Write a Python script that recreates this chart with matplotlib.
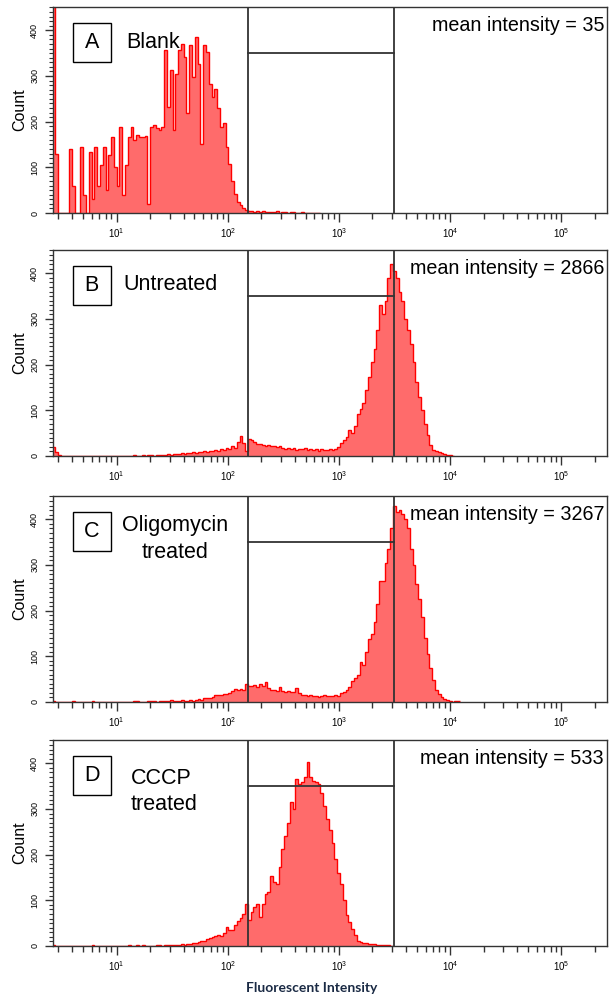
import numpy as np
import matplotlib
matplotlib.use("Agg")
import matplotlib.pyplot as plt
from matplotlib.patches import Rectangle
from matplotlib.ticker import FixedLocator, MultipleLocator, NullFormatter

plt.rcParams['font.family'] = ['Liberation Sans', 'DejaVu Sans']
plt.rcParams['mathtext.fontset'] = 'custom'
plt.rcParams['mathtext.rm'] = 'Liberation Sans'
plt.rcParams['mathtext.it'] = 'Liberation Sans'

# channel grid (log10 of fluorescence)
LOG_START = 0.424
LOG_STEP = 0.0251

counts_A = [1000, 130, 0, 0, 0, 0, 140, 60, 0, 0,
            144, 40, 0, 133, 30, 144, 60, 104, 144, 50,
            126, 166, 100, 60, 188, 40, 104, 166, 188, 159,
            170, 166, 166, 168, 20, 188, 192, 186, 182, 188,
            357, 232, 313, 181, 305, 357, 371, 342, 218, 368,
            298, 386, 327, 152, 368, 353, 283, 254, 272, 229,
            188, 196, 144, 108, 71, 42, 25, 18, 10, 7,
            5, 4, 3, 5, 2, 4, 3, 2, 3, 2,
            4, 0, 2, 3, 0, 2, 2, 0, 1, 2,
            0, 1, 0, 1, 0, 0]

counts_B = [20, 8, 2, 0, 0, 0, 0, 0, 0, 0,
            0, 1, 0, 0, 1, 0, 0, 1, 0, 0,
            1, 0, 1, 1, 0, 1, 1, 0, 1, 2,
            1, 1, 2, 1, 2, 2, 1, 2, 3, 2,
            3, 4, 3, 4, 5, 4, 6, 5, 7, 6,
            8, 7, 9, 8, 11, 9, 12, 10, 14, 12,
            16, 13, 18, 15, 22, 18, 30, 44, 28, 12,
            38, 35, 30, 27, 26, 24, 22, 23, 21, 22,
            20, 22, 18, 16, 18, 15, 17, 14, 16, 15,
            18, 14, 15, 13, 16, 12, 15, 13, 14, 16,
            13, 15, 20, 28, 34, 42, 56, 50, 65, 93,
            102, 115, 144, 173, 205, 235, 275, 330, 310, 340,
            390, 420, 405, 390, 360, 340, 300, 275, 245, 205,
            162, 130, 100, 70, 45, 25, 13, 10, 9, 6,
            4, 3, 2, 1]

counts_C = [2, 0, 0, 0, 0, 0, 0, 2, 0, 0,
            0, 0, 0, 0, 2, 0, 0, 0, 0, 0,
            0, 0, 0, 0, 0, 0, 0, 0, 0, 2,
            2, 0, 0, 1, 2, 2, 2, 1, 3, 2,
            3, 2, 4, 3, 3, 2, 4, 3, 3, 4,
            3, 5, 6, 5, 8, 9, 8, 12, 15, 16,
            15, 17, 18, 20, 24, 28, 26, 29, 27, 40,
            34, 36, 38, 33, 40, 34, 44, 30, 26, 27,
            24, 33, 24, 22, 23, 21, 22, 30, 20, 16,
            15, 14, 15, 13, 14, 12, 13, 15, 13, 14,
            13, 16, 14, 20, 22, 26, 33, 47, 52, 60,
            87, 80, 109, 138, 149, 175, 215, 265, 265, 305,
            335, 380, 430, 415, 420, 412, 400, 380, 335, 300,
            258, 225, 185, 140, 105, 75, 48, 26, 17, 12,
            7, 4, 2, 0, 2, 2]

counts_D = [2, 0, 0, 0, 0, 0, 0, 0, 0, 0,
            0, 0, 0, 0, 2, 0, 0, 0, 0, 0,
            0, 0, 0, 0, 0, 0, 0, 2, 0, 1,
            2, 1, 2, 0, 1, 0, 1, 2, 2, 1,
            2, 2, 3, 2, 3, 3, 4, 3, 4, 5,
            6, 7, 9, 10, 12, 16, 18, 20, 21, 23,
            22, 28, 42, 36, 34, 46, 55, 62, 71, 93,
            56, 74, 85, 93, 63, 93, 114, 118, 154, 140,
            136, 173, 213, 240, 270, 315, 300, 366, 355, 358,
            370, 402, 370, 362, 360, 355, 335, 307, 278, 255,
            225, 190, 160, 136, 100, 68, 52, 38, 25, 12,
            8, 7, 6, 5, 4, 4, 3, 3, 3, 2,
            3, 1]

panel_counts = [counts_A, counts_B, counts_C, counts_D]
panel_letters = ['A', 'B', 'C', 'D']
panel_mean = [35, 2866, 3267, 533]

gate_low = 151
gate_high = 3130
gate_level = 350

x_major = [10, 100, 1000, 10000, 100000]
x_major_labels = ['$10^{1}$', '$10^{2}$', '$10^{3}$', '$10^{4}$', '$10^{5}$']
y_major = [0, 100, 200, 300, 400]
y_major_labels = ['0', '100', '200', '300', '400']

FILL = '#ff6b6b'
EDGE = '#ff0000'
DARK = '#333333'

W, H = 609, 1000
fig = plt.figure(figsize=(W / 100, H / 100), dpi=100)

ax_left_px, ax_right_px = 52.5, 607
bottoms_px = [213, 456, 702, 946]
ax_h_px = 206

xmin, xmax = 10 ** 0.424, 10 ** 5.41
minor_x = [m * 10 ** e for e in range(0, 6) for m in range(2, 10)]
minor_x = [v for v in minor_x if xmin <= v <= xmax]

axes = []
for k in range(4):
    b = 1 - bottoms_px[k] / H
    ax = fig.add_axes([ax_left_px / W, b, (ax_right_px - ax_left_px) / W, ax_h_px / H])
    axes.append(ax)
    counts = np.array(panel_counts[k], dtype=float)
    edges = 10 ** (LOG_START + LOG_STEP * np.arange(len(counts) + 1))
    ax.stairs(counts, edges, fill=True, color=FILL, linewidth=0)
    ax.stairs(counts, edges, fill=False, color=EDGE, linewidth=1.0, baseline=None)

    ax.set_xscale('log')
    ax.set_xlim(xmin, xmax)
    ax.set_ylim(0, 451)

    # gates
    ax.axvline(gate_low, color=DARK, lw=1.3)
    ax.axvline(gate_high, color=DARK, lw=1.3)
    ax.plot([gate_low, gate_high], [gate_level, gate_level], color=DARK, lw=1.3)

    for s in ax.spines.values():
        s.set_color(DARK)
        s.set_linewidth(1.0)

    ax.xaxis.set_major_locator(FixedLocator(x_major))
    ax.set_xticklabels(x_major_labels)
    ax.xaxis.set_minor_locator(FixedLocator(minor_x))
    ax.xaxis.set_minor_formatter(NullFormatter())
    ax.tick_params(axis='x', which='major', direction='out', length=6.5, width=1,
                   color=DARK, labelsize=7, pad=3)
    ax.tick_params(axis='x', which='minor', direction='out', length=4, width=1, color=DARK)

    ax.yaxis.set_major_locator(FixedLocator(y_major))
    ax.set_yticklabels(y_major_labels)
    ax.yaxis.set_minor_locator(MultipleLocator(10))
    ax.tick_params(axis='y', which='major', direction='out', length=5.5, width=1,
                   color=DARK, labelsize=6.5, pad=4)
    ax.tick_params(axis='y', which='minor', direction='out', length=2.8, width=0.8, color=DARK)
    for lab in ax.get_yticklabels():
        lab.set_rotation(90)
        lab.set_va('center')
        lab.set_ha('right')

    # letter box
    ax_w_px = ax_right_px - ax_left_px
    ax.add_patch(Rectangle((20.2 / ax_w_px, 1 - 54.7 / ax_h_px), 38 / ax_w_px, 39 / ax_h_px,
                           transform=ax.transAxes, fill=False, edgecolor='black', lw=1.0,
                           zorder=5))
    ax.annotate(panel_letters[k], xy=(0, 1), xycoords='axes fraction',
                xytext=(39.2, -35.5), textcoords='offset pixels',
                ha='center', va='center', fontsize=15.5, color='black')

    ax.annotate('mean intensity = %d' % panel_mean[k], xy=(1, 1), xycoords='axes fraction',
                xytext=(-3, -24), textcoords='offset pixels',
                ha='right', va='baseline', fontsize=14.2, color='black')

    fig.text(20 / W, b + ax_h_px / H / 2, 'Count', rotation=90, ha='center', va='center',
             fontsize=11.5)

def label(ax, txt, dx, dy, ha='left'):
    ax.annotate(txt, xy=(0, 1), xycoords='axes fraction', xytext=(dx, -dy),
                textcoords='offset pixels', ha=ha, va='center', fontsize=15.5, color='black')

label(axes[0], 'Blank', 73.5, 35)
label(axes[1], 'Untreated', 70.5, 35)
label(axes[2], 'Oligomycin', 122.5, 30, ha='center')
label(axes[2], 'treated', 122.5, 57, ha='center')
label(axes[3], 'CCCP', 78.5, 38)
label(axes[3], 'treated', 78.5, 65)

fig.text(312 / W, 1 - 988 / H, 'Fluorescent Intensity', ha='center', va='center',
         fontsize=10, fontweight='bold', color='#1a2a44', family=['Lato', 'DejaVu Sans'])

fig.savefig('out.png', dpi=100)
